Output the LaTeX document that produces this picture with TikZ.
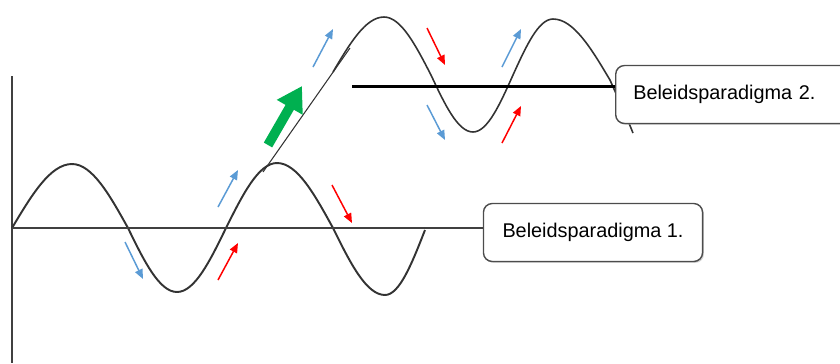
\documentclass[tikz,border=0pt]{standalone}
\usepackage{fontspec}
\setmainfont{Liberation Sans}
\usetikzlibrary{arrows.meta,shadows}
\definecolor{upblue}{RGB}{91,155,213}
\definecolor{shiftgreen}{RGB}{0,176,80}
\begin{document}
\begin{tikzpicture}[
    x=0.02cm, y=-0.02cm,
    axis/.style={line width=1.1pt, black!75},
    wave/.style={line width=1.1pt, black!80},
    paradigm/.style={
        draw=black!70,
        line width=0.8pt,
        rounded corners=5pt,
        fill=white,
        drop shadow={shadow xshift=0.8pt, shadow yshift=-0.8pt, fill=black!35},
        font=\fontsize{11.3}{13}\selectfont,
        minimum height=33pt
    },
    nudge/.style={line width=0.85pt, -{Triangle[length=5.5pt, width=4.5pt]}},
    shiftarrow/.style={line width=5.5pt, shiftgreen, -{Triangle[length=14pt, width=16pt]}}
]
\useasboundingbox (0,0) rectangle (840,363);
\clip (0,0) rectangle (840,363);

% Axes
\coordinate (o) at (12,228);
\coordinate (ytop) at (12,76);
\coordinate (ybot) at (12,363);
\draw[axis] (ytop) -- (ybot);

% Oscillation around paradigm 1
\draw[wave] (o) sin (72,164) cos (128,228) sin (177,292) cos (226,228)
    sin (277,163) cos (333,228) sin (385,295) cos (425,230);

% Transition line
\coordinate (jump) at (263,172);
\coordinate (land) at (350,48);
\draw[line width=0.6pt, black!80] (jump) -- (land);

% Oscillation around paradigm 2
\draw[line width=0.9pt, black!80] (333,72) sin (384,17) cos (431,75) sin (473,132)
    cos (513,75) sin (553,19) cos (610,80) .. controls (618,98) and (627,118) .. (633,133);

% Paradigm boxes
\node[paradigm, minimum width=124.7pt] (par1) at (593,232.5) {Beleidsparadigma 1.};
\node[paradigm, anchor=west, text width=124pt, align=left, inner xsep=10pt] (par2) at (615,94.5) {Beleidsparadigma 2.};

% Base lines of both paradigms
\coordinate (p2start) at (352,86);
\draw[axis] (o) -- (o -| par1.west);
\draw[line width=1.7pt, black] (p2start) -- (p2start -| par2.west);

% Shift arrow
\coordinate (shifttail) at (268,145);
\coordinate (shifttip) at (302,86);
\draw[shiftarrow] (shifttail) -- (shifttip);

% Small arrows
\foreach \xa/\ya/\xb/\yb in {218/207/238/170, 125/242/143/279, 313/67/333/29, 427/105/445/140, 502/67/521/29}
    \draw[nudge, upblue] (\xa,\ya) -- (\xb,\yb);
\foreach \xa/\ya/\xb/\yb in {218/280/238/243, 332/185/352/223, 427/28/445/65, 502/143/521/106}
    \draw[nudge, red] (\xa,\ya) -- (\xb,\yb);

\end{tikzpicture}
\end{document}
